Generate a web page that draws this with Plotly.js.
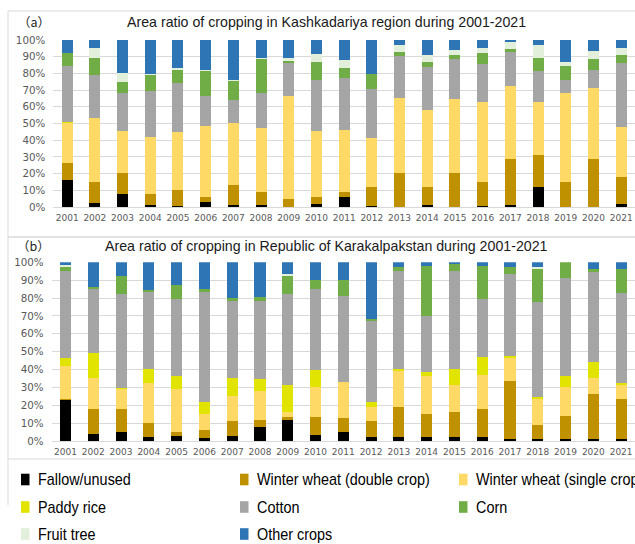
<!DOCTYPE html>
<html>
<head>
<meta charset="utf-8">
<script src="https://cdn.plot.ly/plotly-3.0.1.min.js"></script>
<style>html,body{margin:0;padding:0;background:#fff;}#chart{width:635px;height:544px;}</style>
</head>
<body>
<div id="chart"></div>
<script>
// Categories
const years = ["2001","2002","2003","2004","2005","2006","2007","2008","2009","2010","2011","2012","2013","2014","2015","2016","2017","2018","2019","2020","2021"];
const seriesNames = ["Fallow/unused","Winter wheat (double crop)","Winter wheat (single crop)","Paddy rice","Cotton","Corn","Fruit tree","Other crops"];
const seriesColors = ["#000000","#BF9000","#FFD966","#E1E300","#A5A5A5","#70AD47","#E2EFDA","#2E75B6"];

// Panel (a) Kashkadariya region, % of area
const aFallow = [16, 2.6, 7.8, 1.2, 0.6, 3, 1.4, 1.4, 0, 1.8, 6.2, 0.6, 0.2, 1.4, 0, 0.4, 1, 11.8, 0, 0, 1.8];
const aWheatDouble = [10.5, 12.6, 12.6, 6.4, 9.4, 3.2, 11.8, 7.8, 5, 4, 2.6, 11.2, 20.2, 10.6, 20.4, 14.6, 27.5, 19.5, 15.2, 28.5, 16];
const aWheatSingle = [23.8, 38.3, 25.3, 34.1, 35.1, 42.5, 36.9, 38.1, 61.7, 39.7, 37.5, 29.7, 44.9, 46.1, 44.3, 48.1, 44, 31.6, 53.1, 43, 30.1];
const aPaddy = [0.4, 0, 0, 0, 0, 0, 0, 0, 0, 0, 0, 0, 0, 0, 0, 0, 0, 0, 0, 0, 0];
const aCotton = [33.7, 25.3, 22.6, 27.6, 29.4, 17.8, 13.9, 21.2, 19.3, 30.5, 30.9, 29.2, 25.1, 25.7, 24.1, 22.5, 20.3, 18.5, 7.5, 10.3, 38.5];
const aCorn = [7.6, 10.2, 6.7, 9.9, 7.7, 14.9, 11.2, 20.3, 1.4, 10.6, 6, 8.7, 2.4, 3, 2, 6.8, 1.8, 7.8, 8.6, 7, 4.6];
const aFruit = [0.3, 6, 5.4, 0.3, 1, 0.6, 0.8, 0.4, 1.6, 5.2, 4.6, 0.4, 4.4, 4.2, 3.2, 2.6, 4.2, 7.6, 2.4, 4.8, 4.4];
const aOther = [7.7, 5, 19.6, 20.5, 16.8, 18, 24, 10.8, 11, 8.2, 12.2, 20.2, 2.8, 9, 6, 5, 1.2, 3.2, 13.2, 6.4, 4.6];

// Panel (b) Republic of Karakalpakstan, % of area
const bFallow = [22.8, 4.1, 5.2, 2, 3, 1.9, 3, 8, 11.9, 3.2, 5, 2, 2, 2, 2, 2.2, 1.1, 1.1, 1.1, 1.1, 1.1];
const bWheatDouble = [0.9, 13.8, 12.7, 8.1, 2, 4.1, 8.2, 3.8, 1.3, 10, 8, 9, 17, 13.1, 14.2, 15.7, 32.5, 7.9, 13.1, 25.2, 22.4];
const bWheatSingle = [18.3, 17.5, 11.4, 22.4, 24.1, 9.3, 14, 16.2, 3, 17.2, 20, 8.2, 20, 21.3, 15, 19, 12.9, 14.5, 16, 9.1, 7.7];
const bPaddy = [4.6, 13.9, 0.2, 8, 7.3, 6.7, 10.2, 6.9, 15, 9.2, 0.2, 2.6, 1.3, 2.2, 9.3, 10.1, 1.3, 1.1, 6.2, 8.8, 1.3];
const bCotton = [48.7, 35.8, 52.6, 42.7, 43.1, 61.4, 43, 43.6, 51.3, 45.5, 48.1, 45.4, 55, 31.4, 54.8, 32.3, 45.5, 53.2, 55, 50.2, 50.5];
const bCorn = [1.9, 1.1, 10.1, 1.1, 7.8, 1.7, 1.6, 2.1, 10, 5.2, 8.8, 0.9, 1.9, 28.1, 3.7, 18.8, 3.9, 18.5, 8.6, 1.9, 13.3];
const bFruit = [1.3, 0.1, 0, 0, 0, 0, 0, 0, 1.2, 0, 0, 0, 0, 0, 0, 0, 0, 0.9, 0, 0, 0];
const bOther = [1.5, 13.7, 7.8, 15.7, 12.7, 14.9, 20, 19.4, 6.3, 9.7, 9.9, 31.9, 2.8, 1.9, 1, 1.9, 2.8, 2.8, 0, 3.7, 3.7];

const yTicks = [0,10,20,30,40,50,60,70,80,90,100];
const yTickText = yTicks.map(v => v + "%");

const aSeries = [aFallow, aWheatDouble, aWheatSingle, aPaddy, aCotton, aCorn, aFruit, aOther];
const bSeries = [bFallow, bWheatDouble, bWheatSingle, bPaddy, bCotton, bCorn, bFruit, bOther];

const traces = [];
aSeries.forEach((vals, i) => traces.push({
  type: "bar", x: years, y: vals, name: seriesNames[i], xaxis: "x", yaxis: "y",
  marker: {color: seriesColors[i], line: {width: 0}}, showlegend: false,
  hovertemplate: "%{x}: %{y}%<extra>" + seriesNames[i] + "</extra>"
}));
bSeries.forEach((vals, i) => traces.push({
  type: "bar", x: years, y: vals, name: seriesNames[i], xaxis: "x2", yaxis: "y2",
  marker: {color: seriesColors[i], line: {width: 0}}, showlegend: false,
  hovertemplate: "%{x}: %{y}%<extra>" + seriesNames[i] + "</extra>"
}));

const W = 635, H = 544;
const px = x => x / W;
const py = y => 1 - y / H;

const tickFontY = {family: "DejaVu Sans, Verdana, sans-serif", size: 10.3, color: "#595959"};
const tickFontX = {family: "DejaVu Sans, Verdana, sans-serif", size: 9, color: "#595959"};

const yAxisBase = {
  range: [0, 100], tickvals: yTicks, ticktext: yTickText, showgrid: true, gridcolor: "#D9D9D9",
  gridwidth: 1, zeroline: false, showline: false, ticks: "", tickfont: tickFontY,
  ticklabelstandoff: 7, fixedrange: true
};
const xAxisBase = {
  type: "category", range: [-0.5, 20.5], showgrid: false, zeroline: false, showline: true,
  linecolor: "#D9D9D9", linewidth: 1, ticks: "", tickfont: tickFontX, tickangle: 0,
  ticklabelstandoff: 2, fixedrange: true
};

const shapes = [
  {type: "rect", xref: "paper", yref: "paper", x0: px(8), x1: px(660), y0: py(237), y1: py(11), line: {color: "#D9D9D9", width: 1}, fillcolor: "rgba(0,0,0,0)", layer: "below"},
  {type: "rect", xref: "paper", yref: "paper", x0: px(8), x1: px(660), y0: py(459), y1: py(237), line: {color: "#D9D9D9", width: 1}, fillcolor: "rgba(0,0,0,0)", layer: "below"},
  {type: "line", xref: "paper", yref: "paper", x0: px(8), x1: px(8), y0: py(505), y1: py(459), line: {color: "#D9D9D9", width: 1}}
];

const annotations = [
  {text: "（a）", xref: "paper", yref: "paper", x: px(33.5), y: py(22), xanchor: "center", yanchor: "middle", showarrow: false, font: {family: "Noto Sans CJK SC, sans-serif", size: 12.5, color: "#262626"}},
  {text: "Area ratio of cropping in Kashkadariya region during 2001-2021", xref: "paper", yref: "paper", x: px(326), y: py(22), xanchor: "center", yanchor: "middle", showarrow: false, font: {family: "Liberation Sans, Arial, sans-serif", size: 14.2, color: "#1a1a1a"}},
  {text: "（b）", xref: "paper", yref: "paper", x: px(33.5), y: py(246), xanchor: "center", yanchor: "middle", showarrow: false, font: {family: "Noto Sans CJK SC, sans-serif", size: 12.5, color: "#262626"}},
  {text: "Area ratio of cropping in Republic of Karakalpakstan during 2001-2021", xref: "paper", yref: "paper", x: px(327), y: py(246), xanchor: "center", yanchor: "middle", showarrow: false, font: {family: "Liberation Sans, Arial, sans-serif", size: 14.2, color: "#1a1a1a"}}
];

// Custom legend (3 columns x 3 rows, row-major order)
const legCols = [21, 240, 459];
const legRows = [479.5, 507, 534];
const legendTextIdx = [];
seriesNames.forEach((nm, i) => {
  const c = i % 3, r = Math.floor(i / 3);
  const x0 = legCols[c], yc = legRows[r];
  shapes.push({type: "rect", xref: "paper", yref: "paper", x0: px(x0), x1: px(x0 + 8.5), y0: py(yc + 5.8), y1: py(yc - 5.8), line: {width: 0}, fillcolor: seriesColors[i]});
  legendTextIdx.push(annotations.length);
  annotations.push({text: nm, xref: "paper", yref: "paper", x: px(x0 + 15.2), y: py(yc), xanchor: "left", yanchor: "middle", showarrow: false, font: {family: "Liberation Sans, Arial, sans-serif", size: 16, color: "#000"}});
});

const layout = {
  width: W, height: H, margin: {l: 0, r: 0, t: 0, b: 0}, paper_bgcolor: "#fff", plot_bgcolor: "#fff",
  barmode: "stack", bargap: 0.6, showlegend: false,
  xaxis: Object.assign({}, xAxisBase, {domain: [px(53.3), 1], anchor: "y"}),
  yaxis: Object.assign({}, yAxisBase, {domain: [py(207), py(40)], anchor: "x"}),
  xaxis2: Object.assign({}, xAxisBase, {domain: [px(51.6), 1], anchor: "y2"}),
  yaxis2: Object.assign({}, yAxisBase, {domain: [py(441), py(262.3)], anchor: "x2"}),
  shapes: shapes, annotations: annotations
};

Plotly.newPlot("chart", traces, layout, {displayModeBar: false, staticPlot: true}).then(gd => {
  // The reference legend text is slightly condensed: squeeze glyphs around their left edge.
  const groups = gd.querySelectorAll("g.annotation");
  legendTextIdx.forEach(idx => {
    const g = groups[idx];
    if (!g) return;
    const t = g.querySelector("text.annotation-text");
    if (!t) return;
    const bb = t.getBBox();
    const x0 = bb.x;
    t.setAttribute("transform", "translate(" + x0 + ",0) scale(0.9,1) translate(" + (-x0) + ",0)");
  });
});
</script>
</body>
</html>
